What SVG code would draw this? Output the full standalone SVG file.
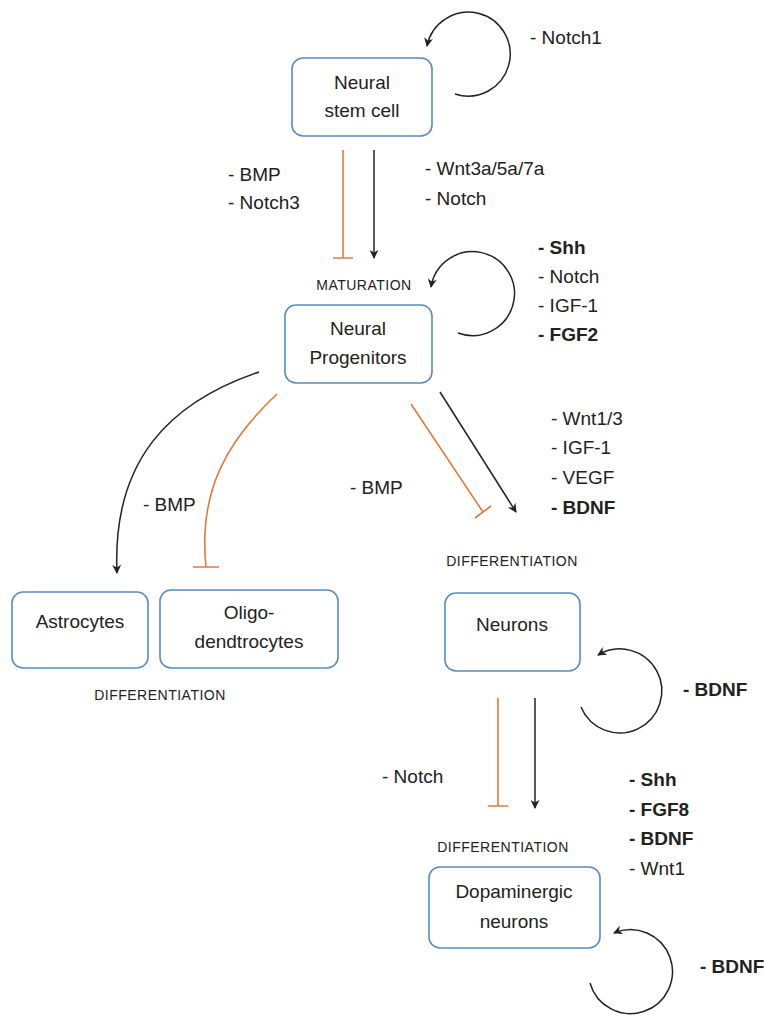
<svg xmlns="http://www.w3.org/2000/svg" width="764" height="1015" viewBox="0 0 764 1015">
  <style>
    .box { fill: #ffffff; stroke: #5a8bbf; stroke-width: 1.6; }
    .lbl { font-family: "Liberation Sans", Arial, sans-serif; font-size: 19px; fill: #222222; }
    .node { font-family: "Liberation Sans", Arial, sans-serif; font-size: 19px; fill: #222222; text-anchor: middle; }
    .b { font-weight: bold; }
    .stage { font-family: "Liberation Sans", Arial, sans-serif; font-size: 14px; letter-spacing: 0.5px; fill: #222222; text-anchor: middle; }
    .act { fill: none; stroke: #222222; stroke-width: 1.5; }
    .inh { fill: none; stroke: #e07a3a; stroke-width: 1.6; }
  </style>
  <defs>
    <marker id="arrow" viewBox="0 0 10 10" refX="9" refY="5" markerWidth="9" markerHeight="9" markerUnits="userSpaceOnUse" orient="auto">
      <path d="M0,0 L10,5 L0,10 L3,5 z" fill="#222222"/>
    </marker>
  </defs>

  <rect width="764" height="1015" fill="#ffffff"/>

  <!-- connectors -->
  <g id="connectors">
    <!-- self-renewal loops -->
    <path class="act" d="M455,94 A42,42 0 1 0 427,46" marker-end="url(#arrow)"/>
    <path class="act" d="M458,333 A42,42 0 1 0 431,287" marker-end="url(#arrow)"/>
    <path class="act" d="M581,707 A42,42 0 1 0 598,655" marker-end="url(#arrow)"/>
    <path class="act" d="M590,983 A42,42 0 1 0 614,933" marker-end="url(#arrow)"/>

    <!-- stem cell to progenitors -->
    <path class="inh" d="M343,150 L343,258 M333,258 L353,258"/>
    <path class="act" d="M374,150 L374,258" marker-end="url(#arrow)"/>

    <!-- progenitors to glia -->
    <path class="act" d="M259,372 C170,402 112,460 117,573" marker-end="url(#arrow)"/>
    <path class="inh" d="M277,394 C228,440 198,490 206,567 M193,567 L219,567"/>

    <!-- progenitors to neurons -->
    <path class="inh" d="M411,404 L483,512 M475,518 L491,506"/>
    <path class="act" d="M440,392 L516,512" marker-end="url(#arrow)"/>

    <!-- neurons to dopaminergic neurons -->
    <path class="inh" d="M498,698 L498,806 M488,806 L508,806"/>
    <path class="act" d="M535,698 L535,808" marker-end="url(#arrow)"/>
  </g>

  <!-- nodes -->
  <g id="stem-cell">
    <rect class="box" x="292" y="58" width="140" height="78" rx="11"/>
    <text class="node" x="362" y="89">Neural</text>
    <text class="node" x="362" y="117">stem cell</text>
  </g>
  <g id="progenitors">
    <rect class="box" x="285" y="305" width="147" height="78" rx="11"/>
    <text class="node" x="358" y="335">Neural</text>
    <text class="node" x="358" y="364">Progenitors</text>
  </g>
  <g id="astrocytes">
    <rect class="box" x="12" y="592" width="136" height="76" rx="11"/>
    <text class="node" x="80" y="628">Astrocytes</text>
  </g>
  <g id="oligodendrocytes">
    <rect class="box" x="160" y="590" width="178" height="78" rx="11"/>
    <text class="node" x="249" y="619">Oligo-</text>
    <text class="node" x="249" y="648">dendtrocytes</text>
  </g>
  <g id="neurons">
    <rect class="box" x="445" y="593" width="135" height="78" rx="11"/>
    <text class="node" x="512" y="631">Neurons</text>
  </g>
  <g id="dopaminergic">
    <rect class="box" x="429" y="867" width="171" height="81" rx="11"/>
    <text class="node" x="514" y="898">Dopaminergic</text>
    <text class="node" x="514" y="928">neurons</text>
  </g>

  <!-- stage labels -->
  <g id="stages">
    <text class="stage" x="364" y="290">MATURATION</text>
    <text class="stage" x="512" y="566">DIFFERENTIATION</text>
    <text class="stage" x="160" y="700">DIFFERENTIATION</text>
    <text class="stage" x="503" y="852">DIFFERENTIATION</text>
  </g>

  <!-- factor labels -->
  <g id="factors">
    <text class="lbl" x="530" y="44">- Notch1</text>

    <text class="lbl" x="228" y="181">- BMP</text>
    <text class="lbl" x="228" y="209">- Notch3</text>

    <text class="lbl" x="425" y="175">- Wnt3a/5a/7a</text>
    <text class="lbl" x="425" y="205">- Notch</text>

    <text class="lbl b" x="538" y="254">- Shh</text>
    <text class="lbl" x="538" y="283">- Notch</text>
    <text class="lbl" x="538" y="312">- IGF-1</text>
    <text class="lbl b" x="538" y="341">- FGF2</text>

    <text class="lbl" x="143" y="511">- BMP</text>
    <text class="lbl" x="350" y="494">- BMP</text>

    <text class="lbl" x="551" y="425">- Wnt1/3</text>
    <text class="lbl" x="551" y="454">- IGF-1</text>
    <text class="lbl" x="551" y="484">- VEGF</text>
    <text class="lbl b" x="551" y="514">- BDNF</text>

    <text class="lbl b" x="683" y="696">- BDNF</text>

    <text class="lbl" x="382" y="783">- Notch</text>

    <text class="lbl b" x="629" y="786">- Shh</text>
    <text class="lbl b" x="629" y="816">- FGF8</text>
    <text class="lbl b" x="629" y="845">- BDNF</text>
    <text class="lbl" x="629" y="875">- Wnt1</text>

    <text class="lbl b" x="700" y="973">- BDNF</text>
  </g>
</svg>
